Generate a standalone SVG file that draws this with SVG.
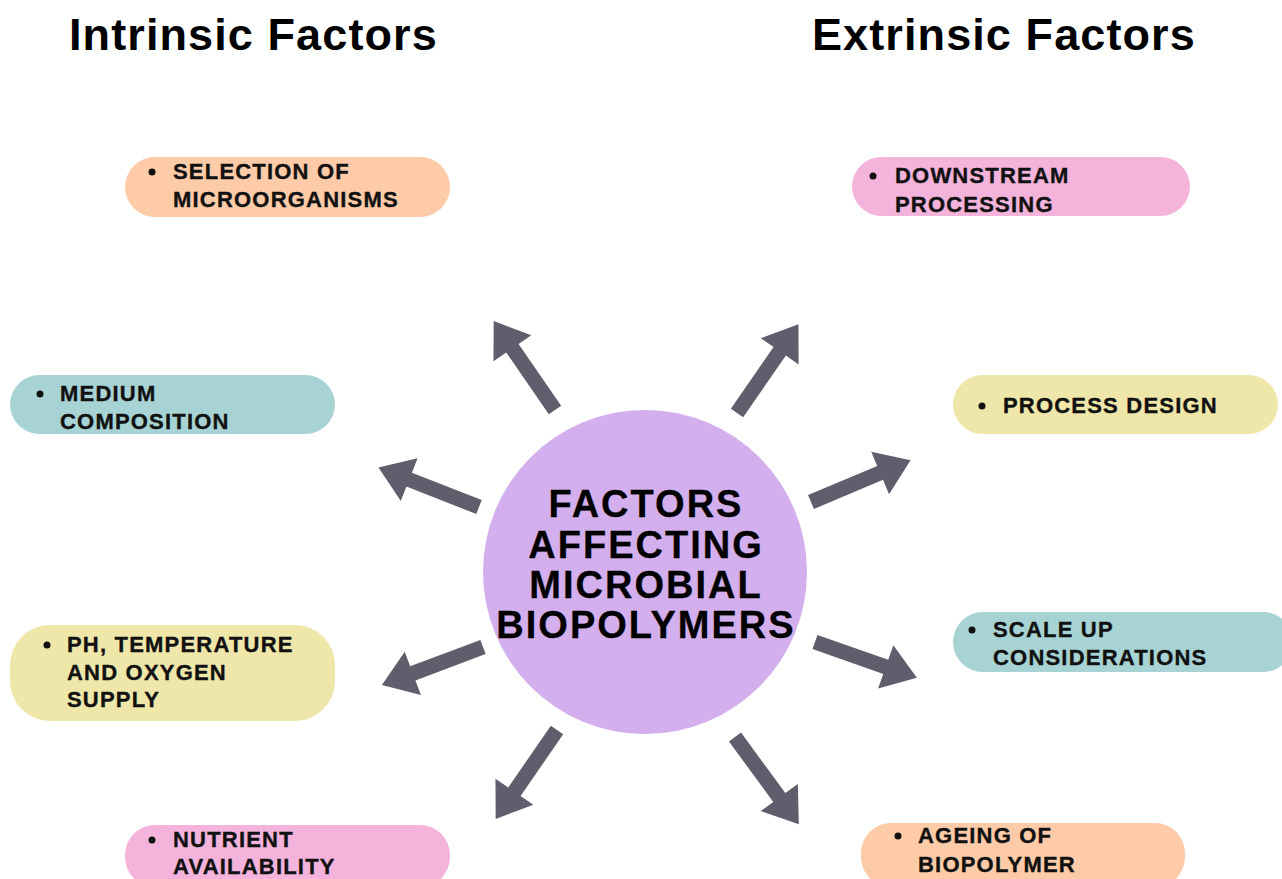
<svg xmlns="http://www.w3.org/2000/svg" xmlns:xlink="http://www.w3.org/1999/xlink" width="1282" height="879" viewBox="0 0 1282 879">
<style>
.title{font-family:"Liberation Sans",Arial,sans-serif;font-weight:700;font-size:45px;letter-spacing:1.1px;fill:#000}
.lbl{font-family:"Liberation Sans",Arial,sans-serif;font-weight:700;font-size:22px;letter-spacing:1.2px;fill:#111;stroke:#111;stroke-width:0.35px}
.ctr{font-family:"Liberation Sans",Arial,sans-serif;font-weight:700;font-size:38px;letter-spacing:2px;fill:#000;stroke:#000;stroke-width:0.3px;text-anchor:middle}
.peach{fill:#FECBA9}.teal{fill:#A8D3D4}.yellow{fill:#EFE6A9}.pink{fill:#F3B3DB}
.dot{fill:#111}
.arr{fill:#5F5E6D}
</style>
<defs>
<path id="arrow" class="arr" d="M0,-7.5 L75,-7.5 L75,-23 L108,0 L75,23 L75,7.5 L0,7.5 Z"/>
</defs>
<rect width="1282" height="879" fill="#fff"/>
<text class="title" x="69" y="50">Intrinsic Factors</text>
<text class="title" x="812" y="50">Extrinsic Factors</text>

<g id="connectors">
<use xlink:href="#arrow" transform="translate(555,410) rotate(-124.6)"/>
<use xlink:href="#arrow" transform="translate(737,413) rotate(-55.3)"/>
<use xlink:href="#arrow" transform="translate(479,507) rotate(-158.6)"/>
<use xlink:href="#arrow" transform="translate(811,502) rotate(-22.8)"/>
<use xlink:href="#arrow" transform="translate(483,647) rotate(159.4)"/>
<use xlink:href="#arrow" transform="translate(815,642) rotate(19.4)"/>
<use xlink:href="#arrow" transform="translate(557,730) rotate(124.6)"/>
<use xlink:href="#arrow" transform="translate(735,737) rotate(53.8)"/>
</g>

<g id="center">
<circle cx="645" cy="572" r="162" fill="#D3AFEE"/>
<text class="ctr" x="646" y="517">FACTORS</text>
<text class="ctr" x="646" y="558">AFFECTING</text>
<text class="ctr" x="646" y="598">MICROBIAL</text>
<text class="ctr" x="646" y="638">BIOPOLYMERS</text>
</g>

<g id="selection">
<rect class="peach" x="125" y="157" width="325" height="60" rx="30"/>
<circle class="dot" cx="152" cy="172" r="3.5"/>
<text class="lbl" x="173" y="179">SELECTION OF</text>
<text class="lbl" x="173" y="207">MICROORGANISMS</text>
</g>

<g id="medium">
<rect class="teal" x="10" y="375" width="325" height="59" rx="29.5"/>
<circle class="dot" cx="40" cy="394" r="3.5"/>
<text class="lbl" x="60" y="401">MEDIUM</text>
<text class="lbl" x="60" y="429">COMPOSITION</text>
</g>

<g id="ph">
<rect class="yellow" x="10" y="625" width="325" height="96" rx="40"/>
<circle class="dot" cx="47" cy="645" r="3.5"/>
<text class="lbl" x="67" y="652">PH, TEMPERATURE</text>
<text class="lbl" x="67" y="680">AND OXYGEN</text>
<text class="lbl" x="67" y="707">SUPPLY</text>
</g>

<g id="nutrient">
<rect class="pink" x="125" y="825" width="325" height="62" rx="30"/>
<circle class="dot" cx="152" cy="840" r="3.5"/>
<text class="lbl" x="173" y="847">NUTRIENT</text>
<text class="lbl" x="173" y="874">AVAILABILITY</text>
</g>

<g id="downstream">
<rect class="pink" x="852" y="157" width="338" height="59" rx="29.5"/>
<circle class="dot" cx="873" cy="176" r="3.5"/>
<text class="lbl" x="895" y="183">DOWNSTREAM</text>
<text class="lbl" x="895" y="212">PROCESSING</text>
</g>

<g id="process">
<rect class="yellow" x="953" y="375" width="325" height="59" rx="29.5"/>
<circle class="dot" cx="982" cy="406" r="3.5"/>
<text class="lbl" x="1003" y="413">PROCESS DESIGN</text>
</g>

<g id="scaleup">
<rect class="teal" x="953" y="612" width="340" height="60" rx="30"/>
<circle class="dot" cx="972" cy="630" r="3.5"/>
<text class="lbl" x="993" y="637">SCALE UP</text>
<text class="lbl" x="993" y="665">CONSIDERATIONS</text>
</g>

<g id="ageing">
<rect class="peach" x="861" y="823" width="324" height="64" rx="30"/>
<circle class="dot" cx="898" cy="836" r="3.5"/>
<text class="lbl" x="918" y="843">AGEING OF</text>
<text class="lbl" x="918" y="872">BIOPOLYMER</text>
</g>
</svg>
